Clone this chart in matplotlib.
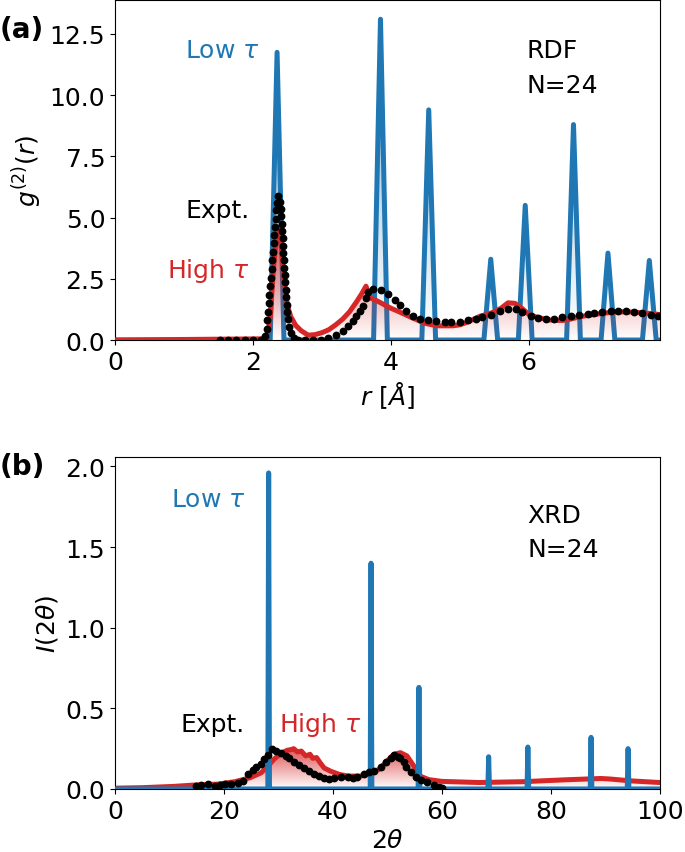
import numpy as np
import matplotlib
matplotlib.use('Agg')
import matplotlib.pyplot as plt
from matplotlib.patches import Polygon
from matplotlib.colors import to_rgb

# ---------- (a) RDF ----------
# low tau: triangular peaks (centre, height)
rdf_low_c = [2.35, 3.85, 4.55, 5.45, 5.95, 6.65, 7.15, 7.75]
rdf_low_h = [11.75, 13.1, 9.4, 3.3, 5.5, 8.8, 3.55, 3.25]
rdf_half_w = 0.1

# high tau
rdf_high_r = [0.0, 2.2, 2.25, 2.3, 2.35, 2.38, 2.42, 2.46, 2.5, 2.55, 2.62, 2.7, 2.8, 2.9,
              3.0, 3.1, 3.2, 3.3, 3.4, 3.5, 3.58, 3.64, 3.7, 3.8, 3.9, 4.0, 4.1, 4.2, 4.3,
              4.4, 4.5, 4.6, 4.7, 4.8, 4.9, 5.0, 5.1, 5.2, 5.3, 5.4, 5.5, 5.6, 5.7, 5.8,
              5.9, 6.0, 6.1, 6.2, 6.3, 6.4, 6.5, 6.6, 6.7, 6.8, 6.9, 7.0, 7.1, 7.2, 7.3,
              7.4, 7.5, 7.6, 7.7, 7.8, 7.9]
rdf_high_g = [0.0, 0.05, 0.9, 3.0, 4.5, 4.6, 3.6, 2.3, 1.4, 0.95, 0.6, 0.38, 0.2, 0.22,
              0.3, 0.42, 0.62, 0.85, 1.15, 1.55, 1.9, 2.2, 1.72, 1.6, 1.45, 1.3, 1.18, 1.05,
              0.92, 0.8, 0.68, 0.62, 0.58, 0.58, 0.58, 0.62, 0.72, 0.85, 0.98, 1.05, 1.15,
              1.3, 1.52, 1.5, 1.3, 1.05, 0.95, 0.88, 0.82, 0.8, 0.8, 0.85, 0.92, 0.98, 1.02,
              1.06, 1.1, 1.13, 1.15, 1.15, 1.14, 1.12, 1.1, 1.07, 1.04]

# experiment dots
rdf_exp_r = [1.52, 1.64, 1.76, 1.88, 2.0, 2.12, 2.18,
             2.20, 2.21, 2.22, 2.23, 2.24, 2.25, 2.26, 2.27, 2.28, 2.29, 2.30, 2.31, 2.32,
             2.33, 2.34, 2.355, 2.37,
             2.39, 2.40, 2.41, 2.415, 2.42, 2.43, 2.435, 2.44, 2.45, 2.455, 2.46, 2.47,
             2.475, 2.48, 2.49, 2.50, 2.51, 2.525, 2.55, 2.59, 2.66,
             2.76, 2.87, 2.99, 3.09, 3.2, 3.3, 3.38, 3.45, 3.5, 3.55, 3.59, 3.64, 3.67,
             3.74, 3.86, 3.96, 4.06, 4.13, 4.22, 4.32, 4.42, 4.54, 4.66, 4.78, 4.87, 5.0,
             5.12, 5.24, 5.33, 5.45, 5.58, 5.70, 5.82, 5.91, 6.03, 6.13, 6.25, 6.37, 6.49,
             6.61, 6.73, 6.86, 6.95, 7.07, 7.19, 7.29, 7.41, 7.53, 7.65, 7.77, 7.87]
rdf_exp_g = [0.0, 0.0, 0.0, 0.0, 0.0, 0.02, 0.15,
             0.45, 0.8, 1.15, 1.5, 1.85, 2.2, 2.55, 2.9, 3.25, 3.6, 3.95, 4.3, 4.6,
             4.95, 5.3, 5.6, 5.9,
             5.65, 5.35, 5.05, 4.75, 4.45, 4.15, 3.85, 3.55, 3.25, 2.95, 2.65, 2.35,
             2.05, 1.75, 1.45, 1.15, 0.85, 0.55, 0.3, 0.1, 0.02,
             0.0, 0.0, 0.02, 0.1, 0.2, 0.37, 0.58, 0.78, 1.0, 1.2, 1.4, 1.7, 1.95,
             2.08, 2.05, 1.9, 1.62, 1.42, 1.18, 0.97, 0.86, 0.8, 0.77, 0.73, 0.73, 0.75,
             0.8, 0.85, 0.93, 1.03, 1.17, 1.25, 1.25, 1.14, 0.98, 0.89, 0.86, 0.86, 0.93,
             1.0, 1.04, 1.07, 1.11, 1.14, 1.17, 1.17, 1.17, 1.14, 1.1, 1.03, 1.0]

# ---------- (b) XRD ----------
xrd_low_c = [28.2, 47.0, 55.8, 68.6, 75.8, 87.4, 94.2]
xrd_low_h = [1.96, 1.40, 0.63, 0.20, 0.26, 0.32, 0.25]
xrd_half_w = 0.15

xrd_high_t = [0, 5, 10.8, 14.8, 18.8, 22, 24.8, 26.8, 28, 29.2, 30.4, 31.6, 32.4, 32.8,
              33.5, 34.2, 35.0, 35.8, 36.3, 37.0, 37.6, 38.4, 39.6, 41.2, 42.8, 45.2,
              46.8, 48.4, 50, 51.2, 52.4, 53.6, 54.8, 56, 57.6, 60, 66.8, 74.8, 82.8,
              89.2, 90.8, 94.8, 100]
xrd_high_i = [0.005, 0.008, 0.016, 0.025, 0.03, 0.045, 0.07, 0.1, 0.14, 0.185, 0.22, 0.24,
              0.245, 0.25, 0.23, 0.235, 0.205, 0.215, 0.19, 0.195, 0.165, 0.13, 0.11, 0.09,
              0.08, 0.08, 0.1, 0.12, 0.175, 0.215, 0.225, 0.205, 0.145, 0.08, 0.058, 0.047,
              0.04, 0.045, 0.057, 0.065, 0.062, 0.05, 0.04]

xrd_exp_t = [14.9, 15.8, 17.0, 18.3, 19.2, 20.1, 21.3, 22.5, 23.4, 24.4, 25.3, 25.9, 26.8,
             27.4, 28.0, 28.9, 29.5, 30.5, 31.4, 32.0, 32.9, 33.8, 34.7, 35.7, 36.6, 37.5,
             38.4, 39.3, 40.2, 41.4, 42.7, 43.6, 44.5, 45.7, 46.6, 47.6, 48.8, 49.7, 50.6,
             51.3, 51.9, 52.4, 53.0, 53.4, 54.3, 55.2, 56.1, 57.3, 58.6, 59.5, 60.0]
xrd_exp_i = [0.02, 0.025, 0.028, 0.02, 0.025, 0.03, 0.03, 0.037, 0.05, 0.09, 0.12, 0.135,
             0.155, 0.185, 0.21, 0.245, 0.236, 0.222, 0.206, 0.19, 0.17, 0.15, 0.128, 0.113,
             0.095, 0.078, 0.068, 0.062, 0.07, 0.075, 0.075, 0.066, 0.075, 0.095, 0.103,
             0.113, 0.134, 0.165, 0.19, 0.21, 0.2, 0.19, 0.17, 0.135, 0.103, 0.076, 0.057,
             0.041, 0.025, 0.01, 0.005]

BLUE = '#1f77b4'
RED = '#d62728'
FS = 18
LW = 3.6


def spikes(centres, heights, half_w, x0, x1):
    xs, ys = [x0], [0.0]
    for c, h in zip(centres, heights):
        xs += [c - half_w, c, c + half_w]
        ys += [0.0, h, 0.0]
    xs.append(x1)
    ys.append(0.0)
    return np.array(xs), np.array(ys)


def gradient_fill(ax, x, y, color, alpha_max, z):
    x = np.asarray(x, float)
    y = np.asarray(y, float)
    ax.plot(x, y, color=color, lw=LW, zorder=z + 0.1)
    grad = np.zeros((200, 1, 4))
    grad[:, :, :3] = to_rgb(color)
    grad[:, :, 3] = np.linspace(0, alpha_max, 200)[:, None]
    im = ax.imshow(grad, aspect='auto', origin='lower',
                   extent=[x.min(), x.max(), 0, y.max()], zorder=z)
    xy = np.vstack([[x.min(), 0], np.column_stack([x, y]), [x.max(), 0]])
    clip = Polygon(xy, closed=True, facecolor='none', edgecolor='none')
    ax.add_patch(clip)
    im.set_clip_path(clip)


fig = plt.figure(figsize=(6.85, 8.53), dpi=100)
ax1 = fig.add_axes([0.168, 0.6002, 0.795, 0.3986])
ax2 = fig.add_axes([0.168, 0.0739, 0.795, 0.389])

# (a)
xl, yl = spikes(rdf_low_c, rdf_low_h, rdf_half_w, 0.0, 7.9)
gradient_fill(ax1, xl, yl, BLUE, 0.6, 2)
gradient_fill(ax1, rdf_high_r, rdf_high_g, RED, 0.8, 3)
ax1.plot(rdf_exp_r, rdf_exp_g, 'o', color='black', ms=4.6, zorder=5)
ax1.set_xlim(0, 7.9)
ax1.set_ylim(0, max(rdf_low_h) * 1.06)
ax1.set_xticks([0, 2, 4, 6])
ax1.set_yticks([0, 2.5, 5.0, 7.5, 10.0, 12.5])
ax1.set_xlabel(r'$r\ [\AA]$', fontsize=FS)
ax1.set_ylabel(r'$g^{(2)}(r)$', fontsize=FS)
ax1.tick_params(labelsize=FS)
ax1.text(1.02, 11.85, r'Low $\tau$', color=BLUE, fontsize=FS, va='center')
ax1.text(5.97, 11.85, 'RDF', fontsize=FS, va='center')
ax1.text(5.97, 10.4, 'N=24', fontsize=FS, va='center')
ax1.text(1.02, 5.3, 'Expt.', fontsize=FS, va='center')
ax1.text(0.76, 2.85, r'High $\tau$', color=RED, fontsize=FS, va='center')

# (b)
tl, il = spikes(xrd_low_c, xrd_low_h, xrd_half_w, 0.0, 100.0)
gradient_fill(ax2, xrd_high_t, xrd_high_i, RED, 0.8, 2)
gradient_fill(ax2, tl, il, BLUE, 0.6, 3)
ax2.plot(xrd_exp_t, xrd_exp_i, 'o', color='black', ms=4.6, zorder=5)
ax2.set_xlim(0, 100)
ax2.set_ylim(0, max(xrd_low_h) * 1.05)
ax2.set_xticks([0, 20, 40, 60, 80, 100])
ax2.set_yticks([0, 0.5, 1.0, 1.5, 2.0])
ax2.set_xlabel(r'$2\theta$', fontsize=FS)
ax2.set_ylabel(r'$I(2\theta)$', fontsize=FS)
ax2.tick_params(labelsize=FS)
ax2.text(10.2, 1.80, r'Low $\tau$', color=BLUE, fontsize=FS, va='center')
ax2.text(75.7, 1.70, 'XRD', fontsize=FS, va='center')
ax2.text(75.7, 1.49, 'N=24', fontsize=FS, va='center')
ax2.text(12.0, 0.40, 'Expt.', fontsize=FS, va='center')
ax2.text(30.1, 0.40, r'High $\tau$', color=RED, fontsize=FS, va='center')

fig.text(0.0, 0.965, '(a)', fontsize=20, fontweight='bold', va='center')
fig.text(0.0, 0.4525, '(b)', fontsize=20, fontweight='bold', va='center')

fig.savefig('out.png', dpi=100)
